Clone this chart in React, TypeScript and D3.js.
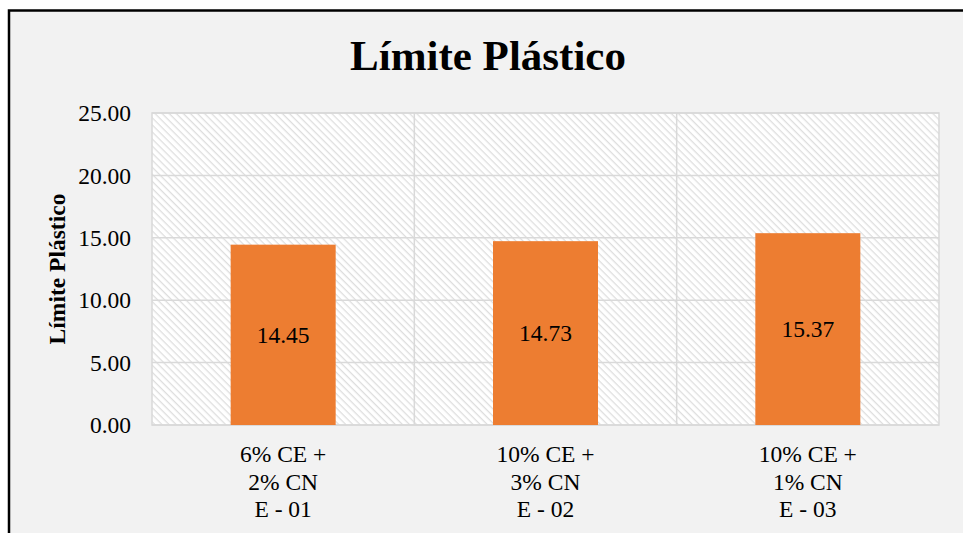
import React from "react";
import * as d3 from "d3";

const categories = [
  ["6% CE +", "2% CN", "E - 01"],
  ["10% CE +", "3% CN", "E - 02"],
  ["10% CE +", "1% CN", "E - 03"],
];
const values = [14.45, 14.73, 15.37];
const yTicks = [0, 5, 10, 15, 20, 25];

const width = 963;
const height = 533;
const margin = { top: 113, right: 24, bottom: 108, left: 152 };
const font = "Liberation Serif";
const grid = "#d9d9d9";

const App = () => {
  const x = d3
    .scaleBand()
    .domain(categories.map((_, i) => String(i)))
    .range([margin.left, width - margin.right]);
  const y = d3
    .scaleLinear()
    .domain([0, 25])
    .range([height - margin.bottom, margin.top]);
  const bw = 105;
  const cx = (i: number) => (x(String(i)) as number) + x.bandwidth() / 2;

  return (
    <svg
      width={width}
      height={height}
      style={{ position: "absolute", left: 0, top: 0, display: "block" }}
      fontFamily={font}
    >
      <defs>
        <pattern
          id="hatch"
          patternUnits="userSpaceOnUse"
          width={5}
          height={5}
          patternTransform="rotate(45)"
        >
          <rect width={5} height={5} fill="#ffffff" />
          <rect width={5} height={1.3} fill="#dedede" />
        </pattern>
      </defs>
      <rect width={width} height={height} fill="#ffffff" />
      <rect
        x={9}
        y={10.5}
        width={width + 20}
        height={height + 20}
        fill="#f2f2f2"
        stroke="#000"
        strokeWidth={2.5}
      />

      <rect
        x={margin.left}
        y={margin.top}
        width={width - margin.left - margin.right}
        height={height - margin.top - margin.bottom}
        fill="url(#hatch)"
        stroke={grid}
        strokeWidth={1.5}
      />
      {yTicks.map((t) => (
        <line
          key={t}
          x1={margin.left}
          x2={width - margin.right}
          y1={y(t)}
          y2={y(t)}
          stroke={grid}
          strokeWidth={1.5}
        />
      ))}
      {categories.slice(1).map((_, i) => (
        <line
          key={i}
          x1={x(String(i + 1))}
          x2={x(String(i + 1))}
          y1={margin.top}
          y2={height - margin.bottom}
          stroke={grid}
          strokeWidth={1.5}
        />
      ))}

      {values.map((v, i) => (
        <rect
          key={i}
          x={cx(i) - bw / 2}
          y={y(v)}
          width={bw}
          height={y(0) - y(v)}
          fill="#ed7d31"
        />
      ))}
      {values.map((v, i) => (
        <text
          key={i}
          x={cx(i)}
          y={(y(v) + y(0)) / 2}
          dy="0.35em"
          textAnchor="middle"
          fontSize={23.5}
        >
          {v.toFixed(2)}
        </text>
      ))}

      {yTicks.map((t) => (
        <text key={t} x={131} y={y(t)} dy="0.35em" textAnchor="end" fontSize={23.5}>
          {t.toFixed(2)}
        </text>
      ))}

      {categories.map((lines, i) => (
        <text key={i} textAnchor="middle" fontSize={23.5}>
          {lines.map((l, j) => (
            <tspan key={j} x={cx(i)} y={454 + j * 27.5} dy="0.35em">
              {l}
            </tspan>
          ))}
        </text>
      ))}

      <text x={488} y={70} textAnchor="middle" fontWeight="bold" fontSize={43}>
        Límite Plástico
      </text>
      <text
        transform={`translate(57,${(y(0) + y(25)) / 2}) rotate(-90)`}
        dy="0.35em"
        textAnchor="middle"
        fontWeight="bold"
        fontSize={23.5}
      >
        Límite Plástico
      </text>
    </svg>
  );
};

export default App;
